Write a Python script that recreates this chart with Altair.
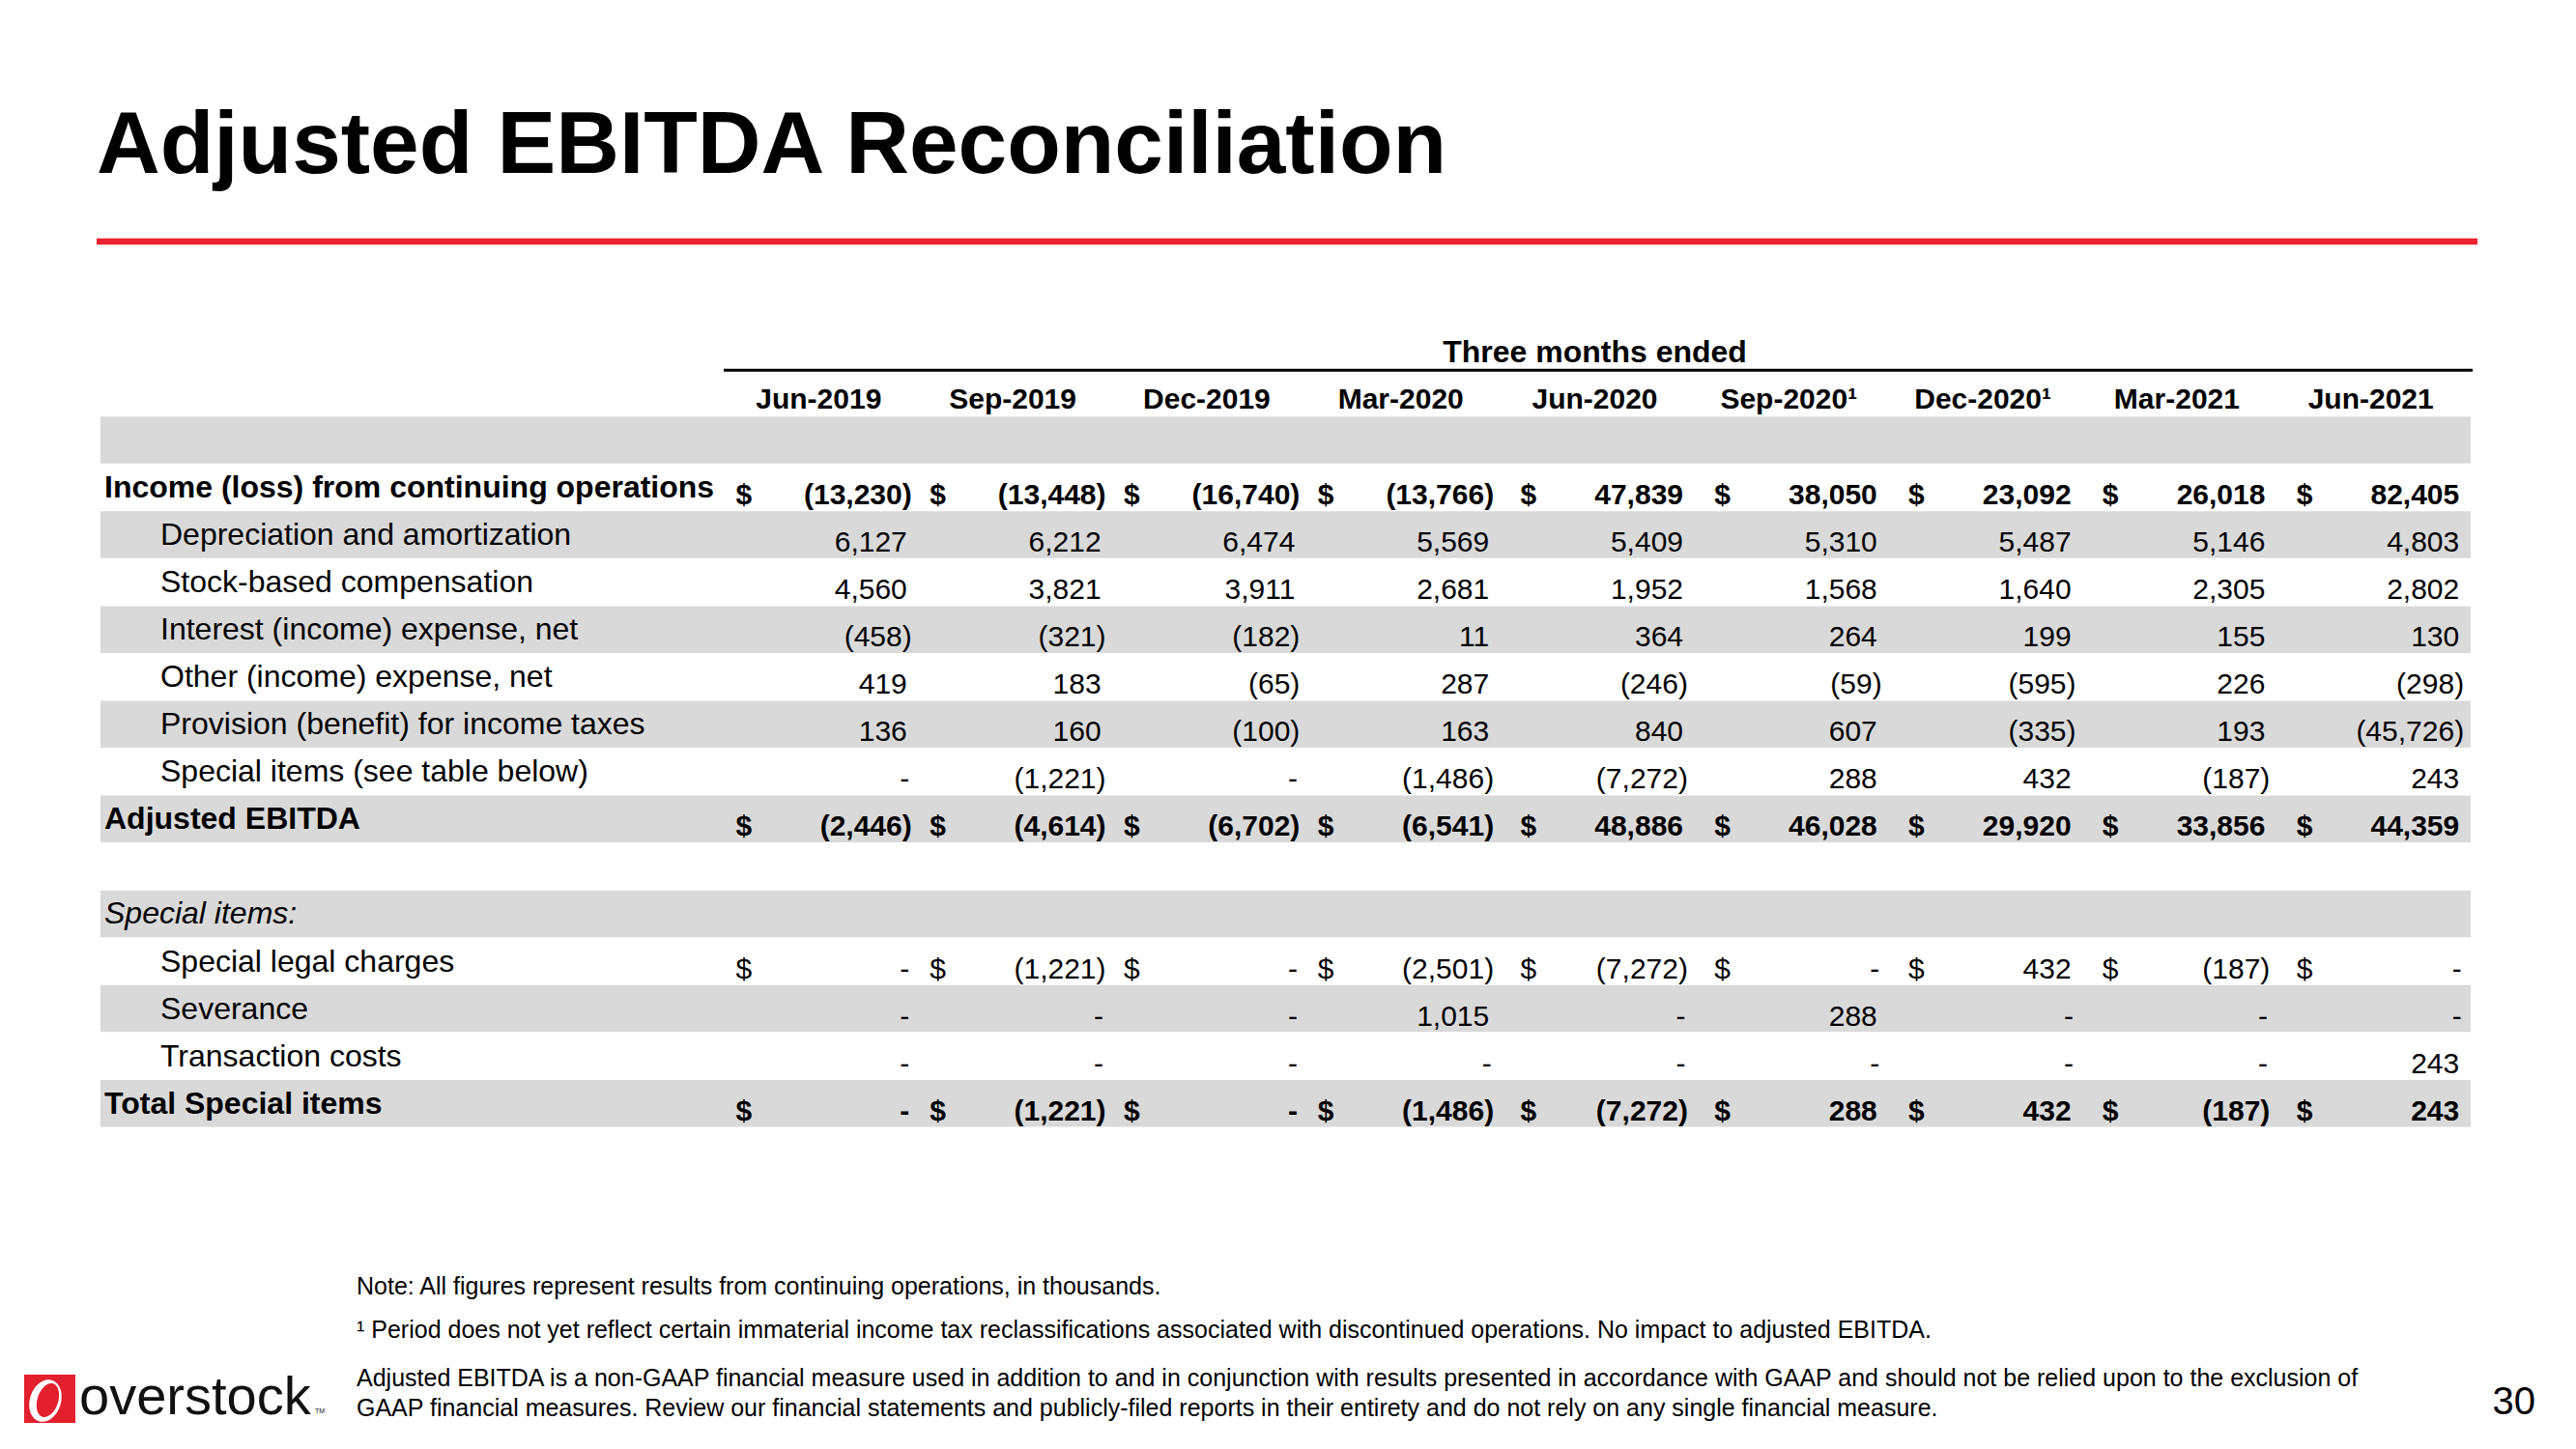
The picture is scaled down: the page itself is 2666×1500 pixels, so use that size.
import altair as alt
import pandas as pd

FONT = "Liberation Sans"

# ---------------- data ----------------
title_text = "Adjusted EBITDA Reconciliation"
periods = ["Jun-2019", "Sep-2019", "Dec-2019", "Mar-2020", "Jun-2020",
           "Sep-2020\u00b9", "Dec-2020\u00b9", "Mar-2021", "Jun-2021"]

row_labels = ["Income (loss) from continuing operations",
              "Depreciation and amortization",
              "Stock-based compensation",
              "Interest (income) expense, net",
              "Other (income) expense, net",
              "Provision (benefit) for income taxes",
              "Special items (see table below)",
              "Adjusted EBITDA",
              "Special items:",
              "Special legal charges",
              "Severance",
              "Transaction costs",
              "Total Special items"]
row_index = [0, 1, 2, 3, 4, 5, 6, 7, 9, 10, 11, 12, 13]
row_style = ["bold", "indent", "indent", "indent", "indent", "indent", "indent",
             "bold", "italic", "indent", "indent", "indent", "bold"]
dollar_rows = [0, 7, 10, 13]
bold_rows = [0, 7, 13]
band_rows = [-1, 1, 3, 5, 7, 9, 11, 13]

income = [-13230, -13448, -16740, -13766, 47839, 38050, 23092, 26018, 82405]
dep_amort = [6127, 6212, 6474, 5569, 5409, 5310, 5487, 5146, 4803]
stock_comp = [4560, 3821, 3911, 2681, 1952, 1568, 1640, 2305, 2802]
interest = [-458, -321, -182, 11, 364, 264, 199, 155, 130]
other_exp = [419, 183, -65, 287, -246, -59, -595, 226, -298]
tax_prov = [136, 160, -100, 163, 840, 607, -335, 193, -45726]
special_items = [0, -1221, 0, -1486, -7272, 288, 432, -187, 243]
adj_ebitda = [-2446, -4614, -6702, -6541, 48886, 46028, 29920, 33856, 44359]
legal = [0, -1221, 0, -2501, -7272, 0, 432, -187, 0]
severance = [0, 0, 0, 1015, 0, 288, 0, 0, 0]
transaction = [0, 0, 0, 0, 0, 0, 0, 0, 243]
total_special = [0, -1221, 0, -1486, -7272, 288, 432, -187, 243]

value_rows = {0: income, 1: dep_amort, 2: stock_comp, 3: interest, 4: other_exp,
              5: tax_prov, 6: special_items, 7: adj_ebitda, 10: legal,
              11: severance, 12: transaction, 13: total_special}

notes = ["Note: All figures represent results from continuing operations, in thousands.",
         "\u00b9 Period does not yet reflect certain immaterial income tax reclassifications associated with discontinued operations. No impact to adjusted EBITDA.",
         "Adjusted EBITDA is a non-GAAP financial measure used in addition to and in conjunction with results presented in accordance with GAAP and should not be relied upon to the exclusion of",
         "GAAP financial measures. Review our financial statements and publicly-filed reports in their entirety and do not rely on any single financial measure."]
page_number = "30"


def fmt(v):
    if v == 0:
        return "-"
    if v < 0:
        return "({:,})".format(-v)
    return "{:,}".format(v)


vals = []
for r, series in value_rows.items():
    for c, v in enumerate(series):
        vals.append({"r": r, "c": c, "v": v, "t": fmt(v),
                     "bold": r in bold_rows})
vals_df = pd.DataFrame(vals)

dollars_df = pd.DataFrame([{"r": r, "c": c, "bold": r in bold_rows}
                           for r in dollar_rows for c in range(len(periods))])
labels_df = pd.DataFrame({"label": row_labels, "r": row_index, "style": row_style})
bands_df = pd.DataFrame({"r": band_rows})
periods_df = pd.DataFrame({"p": periods, "c": list(range(len(periods)))})

# ---------------- scales ----------------
W, H = 2640, 1476
xs = alt.Scale(domain=[-4.6280, 8.5194], nice=False, zero=False)
ys = alt.Scale(domain=[-10.1223, 19.9694], nice=False, zero=False, reverse=True)


def X(field):
    return alt.X(field, type="quantitative", scale=xs, axis=None)


def Y(field):
    return alt.Y(field, type="quantitative", scale=ys, axis=None)


def txt(text, x, y, size, weight="normal", align="left", color="black"):
    return alt.Chart(pd.DataFrame({"t": [text]})).mark_text(
        align=align, baseline="alphabetic", fontSize=size, fontWeight=weight,
        font=FONT, color=color
    ).encode(x=alt.value(x), y=alt.value(y), text="t:N")


layers = []

# gray bands
layers.append(
    alt.Chart(bands_df).transform_calculate(
        y0="datum.r - 0.4945", y1="datum.r + 0.4945"
    ).mark_rect(color="#D9D9D9").encode(
        x=alt.value(96), x2=alt.value(2549), y=Y("y0"), y2=alt.Y2("y1")
    )
)

# title + red line
layers.append(txt(title_text, 92, 171, 91, weight="bold"))
layers.append(
    alt.Chart(pd.DataFrame({"a": [0]})).mark_rule(color="#EC2330", strokeWidth=6.5).encode(
        x=alt.value(92), x2=alt.value(2556), y=alt.value(242)
    )
)

# header: "Three months ended" and rule
layers.append(
    alt.Chart(pd.DataFrame({"t": ["Three months ended"], "c": [4]})).mark_text(
        align="center", baseline="alphabetic", fontSize=32, fontWeight="bold",
        font=FONT, dx=-90, color="black"
    ).encode(x=X("c"), y=alt.value(367), text="t:N")
)
layers.append(
    alt.Chart(pd.DataFrame({"a": [0]})).mark_rule(color="black", strokeWidth=3).encode(
        x=alt.value(741), x2=alt.value(2551), y=alt.value(375.3)
    )
)
layers.append(
    alt.Chart(periods_df).mark_text(
        align="center", baseline="alphabetic", fontSize=30, fontWeight="bold",
        font=FONT, dx=-90, color="black"
    ).encode(x=X("c"), y=alt.value(415.3), text="p:N")
)

# row labels
for style, xpos, weight, fstyle in [("bold", 100, "bold", "normal"),
                                    ("indent", 158, "normal", "normal"),
                                    ("italic", 100, "normal", "italic")]:
    layers.append(
        alt.Chart(labels_df).transform_filter(
            alt.datum.style == style
        ).mark_text(
            align="left", baseline="alphabetic", fontSize=32, fontWeight=weight,
            fontStyle=fstyle, font=FONT, dy=10.5, color="black"
        ).encode(x=alt.value(xpos), y=Y("r"), text="label:N")
    )

# values
for is_bold in [False, True]:
    layers.append(
        alt.Chart(vals_df).transform_filter(
            alt.datum.bold == is_bold
        ).transform_calculate(
            xp="datum.v < 0 ? datum.c + 0.032 : (datum.v == 0 ? datum.c + 0.02 : datum.c + 0.0075)"
        ).mark_text(
            align="right", baseline="alphabetic", fontSize=30,
            fontWeight="bold" if is_bold else "normal", font=FONT, dy=17.5,
            color="black"
        ).encode(x=X("xp"), y=Y("r"), text="t:N")
    )
    layers.append(
        alt.Chart(dollars_df).transform_filter(
            alt.datum.bold == is_bold
        ).transform_calculate(
            xd="datum.c < 4 ? datum.c - 0.876 : datum.c - 0.832", s="'$'"
        ).mark_text(
            align="left", baseline="alphabetic", fontSize=30,
            fontWeight="bold" if is_bold else "normal", font=FONT, dy=17.5,
            color="black"
        ).encode(x=X("xd"), y=Y("r"), text="s:N")
    )

# notes
for text, yb in zip(notes, [1332, 1377, 1427, 1458]):
    layers.append(txt(text, 361, yb, 25))

# page number
layers.append(txt(page_number, 2616, 1456, 40, align="right"))

# logo
layers.append(
    alt.Chart(pd.DataFrame({"a": [0]})).mark_rect(color="#E4202E").encode(
        x=alt.value(17), x2=alt.value(70), y=alt.value(1415), y2=alt.value(1465)
    )
)
outer = "M0 -1 A0.72 1 0 1 1 0 1 A0.72 1 0 1 1 0 -1 Z"
inner = "M0 -1 A0.6 1 0 1 1 0 1 A0.6 1 0 1 1 0 -1 Z"
layers.append(
    alt.Chart(pd.DataFrame({"a": [0]})).mark_point(
        shape=outer, filled=True, color="white", opacity=1, size=2000, angle=18
    ).encode(x=alt.value(39), y=alt.value(1442))
)
layers.append(
    alt.Chart(pd.DataFrame({"a": [0]})).mark_point(
        shape=inner, filled=True, color="#E4202E", opacity=1, size=1300, angle=18
    ).encode(x=alt.value(41.5), y=alt.value(1441.5))
)
layers.append(txt("overstock", 74, 1456, 56, color="#111111"))
layers.append(txt("TM", 318, 1455, 7, color="#111111"))

chart = alt.layer(*layers).properties(
    width=W, height=H, padding=0, background="white",
    autosize=alt.AutoSizeParams(type="none")
).configure_view(stroke=None)

chart.save("out.html", embed_options={"renderer": "svg", "actions": False})
